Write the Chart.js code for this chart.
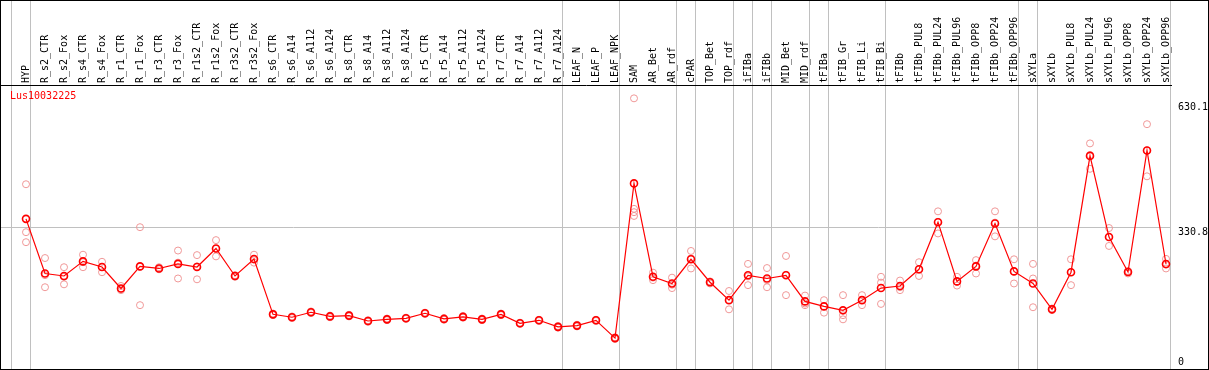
<!DOCTYPE html>
<html lang="en">
<head>
<meta charset="UTF-8" />
<title>Lus10032225</title>
<script src="https://cdn.jsdelivr.net/npm/chart.js"></script>
<style>
  body { margin: 0; background: #fff; }
  .frame { width: 1209px; height: 370px; box-sizing: border-box; border: 1px solid #000; }
  canvas { display: block; }
</style>
</head>
<body>
<div class="frame"><canvas id="expr" width="1207" height="368"></canvas></div>
<script>
const geneName = "Lus10032225";

const categories = [
  "HYP", "R_s2_CTR", "R_s2_Fox", "R_s4_CTR", "R_s4_Fox", "R_r1_CTR", "R_r1_Fox", "R_r3_CTR", "R_r3_Fox",
  "R_r1s2_CTR", "R_r1s2_Fox", "R_r3s2_CTR", "R_r3s2_Fox",
  "R_s6_CTR", "R_s6_A14", "R_s6_A112", "R_s6_A124", "R_s8_CTR", "R_s8_A14", "R_s8_A112", "R_s8_A124",
  "R_r5_CTR", "R_r5_A14", "R_r5_A112", "R_r5_A124", "R_r7_CTR", "R_r7_A14", "R_r7_A112", "R_r7_A124",
  "LEAF_N", "LEAF_P", "LEAF_NPK", "SAM", "AR_Bet", "AR_rdf", "cPAR", "TOP_Bet", "TOP_rdf",
  "iFIBa", "iFIBb", "MID_Bet", "MID_rdf", "tFIBa", "tFIB_Gr", "tFIB_Li", "tFIB_Bi", "tFIBb",
  "tFIBb_PUL8", "tFIBb_PUL24", "tFIBb_PUL96", "tFIBb_OPP8", "tFIBb_OPP24", "tFIBb_OPP96",
  "sXYLa", "sXYLb", "sXYLb_PUL8", "sXYLb_PUL24", "sXYLb_PUL96", "sXYLb_OPP8", "sXYLb_OPP24", "sXYLb_OPP96"
];

// mean expression per sample (red line)
const means = [
  351, 220, 214, 249, 235.5, 184, 237, 232, 243, 235.5, 280, 214, 254.7,
  122, 115, 127, 117, 119, 106, 110, 112.5, 124.5, 111, 116, 110, 122, 100.5, 107.7, 92,
  95, 107.7, 65,
  436, 212, 196, 254, 199, 156, 215.6, 208, 215.6, 153,
  141, 131.6, 156, 185, 190,
  230, 343, 201, 237, 340, 225,
  196, 134,
  223, 502, 307.4, 223.5, 515, 242.7
];

// single replicates (pink circles)
const replicates = [
  [434, 319, 295], [257, 216, 187], [235, 212, 194], [265, 247, 235], [248, 235, 223],
  [190, 183, 180], [331, 236, 144], [235, 232, 230], [275, 246, 208], [264, 237, 206],
  [300, 279, 261], [216, 214, 212], [265, 253, 246],
  [124, 122, 120], [117, 115, 113], [129, 127, 125], [119, 117, 115], [121, 119, 117],
  [108, 106, 104], [112, 110, 108], [114, 112, 111], [126, 124, 123], [113, 111, 109],
  [118, 116, 114], [112, 110, 108], [124, 122, 120], [102, 100, 99], [109, 108, 106], [94, 92, 90],
  [97, 95, 93], [109, 108, 106], [67, 65, 63],
  [640, 375, 367, 358], [222, 210, 204], [210, 193, 185], [274, 256, 232], [201, 200, 196],
  [178, 156, 134], [243, 213, 192], [233, 204, 187], [262, 217, 168], [167, 148, 144],
  [156, 141, 126], [168, 120, 110], [168, 156, 144], [212, 198, 147], [203, 187, 180],
  [247, 229, 214], [369, 344, 316], [212, 200, 191], [252, 239, 220], [369, 342, 309], [254, 225, 196],
  [243, 208, 139], [136, 134, 132],
  [254, 223, 192], [532, 504, 471], [329, 307, 286], [226, 224, 220], [578, 515, 453], [255, 241, 232]
];

const yTicks = [0, 330.8, 630.1];
// index of the last sample of each group (-1 = before first)
const groupEnds = [-1, 0, 28, 31, 34, 35, 37, 38, 39, 41, 42, 45, 52, 53, 60];

const meanPoints = means.map((v, i) => ({ x: i, y: v }));
const repPoints = [];
replicates.forEach((vals, i) => vals.forEach(v => repPoints.push({ x: i, y: v })));

const sepTicks = groupEnds.map(i => i + 0.24);
const xTickValues = categories.map((c, i) => i).concat(sepTicks).sort((a, b) => a - b);

const mono = "'DejaVu Sans Mono', monospace";
const gray = "#c0c0c0";
const clear = "rgba(0,0,0,0)";

function noPadding(s) {
  s.paddingLeft = 0;
  s.paddingRight = 0;
  s.paddingTop = 0;
  s.paddingBottom = 0;
}

const geneLabel = {
  id: "geneLabel",
  afterDatasetsDraw(chart) {
    const { ctx, chartArea } = chart;
    ctx.save();
    ctx.font = "10px " + mono;
    ctx.fillStyle = "#ff0000";
    ctx.textBaseline = "top";
    ctx.fillText(geneName, chartArea.left + 9, chartArea.top + 6);
    ctx.restore();
  }
};

new Chart(document.getElementById("expr"), {
  type: "line",
  data: {
    datasets: [
      {
        label: "mean",
        data: meanPoints,
        borderColor: "#ff0000",
        borderWidth: 1.2,
        pointRadius: 3.5,
        pointBorderWidth: 1.6,
        pointBorderColor: "#ff0000",
        pointBackgroundColor: clear,
        tension: 0,
        order: 0
      },
      {
        label: "replicates",
        data: repPoints,
        showLine: false,
        pointRadius: 3.5,
        pointBorderWidth: 1,
        pointBorderColor: "#f09898",
        pointBackgroundColor: clear,
        order: 1
      }
    ]
  },
  options: {
    responsive: false,
    animation: false,
    events: [],
    layout: { padding: 0, autoPadding: false },
    plugins: { legend: { display: false }, tooltip: { enabled: false } },
    scales: {
      x: {
        type: "linear",
        position: "top",
        min: -25 / 19,
        max: -25 / 19 + 1170 / 19,
        afterBuildTicks: s => { s.ticks = xTickValues.map(v => ({ value: v })); },
        afterFit: s => { s.height = 84; noPadding(s); },
        ticks: {
          autoSkip: false,
          minRotation: 90,
          maxRotation: 90,
          padding: -82,
          labelOffset: 12,
          color: "#000",
          font: { family: mono, size: 10 },
          callback: v => Number.isInteger(v) ? categories[v] : ""
        },
        grid: {
          color: c => c.tick && !Number.isInteger(c.tick.value) ? gray : clear,
          tickLength: 84,
          lineWidth: 1
        },
        border: { display: true, color: "#000", width: 1 }
      },
      y: {
        position: "right",
        min: -9.1,
        max: 672,
        afterBuildTicks: s => { s.ticks = yTicks.map(v => ({ value: v })); },
        afterFit: s => { s.width = 37; noPadding(s); },
        ticks: {
          autoSkip: false,
          padding: 7,
          labelOffset: 5,
          color: "#000",
          font: c => ({ family: mono, size: 10, lineHeight: c.tick && c.tick.value === 0 ? 1.6 : 1.2 }),
          callback: v => v === 0 ? ["0", ""] : String(v)
        },
        grid: {
          drawTicks: false,
          color: c => c.tick && c.tick.value === 330.8 ? gray : clear
        },
        border: { display: false }
      }
    }
  },
  plugins: [geneLabel]
});
</script>
</body>
</html>
